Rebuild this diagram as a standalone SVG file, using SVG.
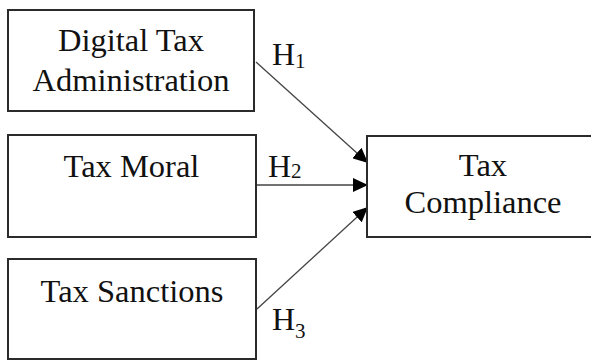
<svg xmlns="http://www.w3.org/2000/svg" width="591" height="360" viewBox="0 0 591 360">
<style>
.box{fill:#fff;stroke:#2b2b2b;stroke-width:2}
.t{font-family:"Liberation Serif","Times New Roman",serif;font-size:32.5px;fill:#111;text-anchor:middle}
.h{font-family:"Liberation Serif","Times New Roman",serif;font-size:32px;fill:#111}
.sub{font-size:21px}
.c{stroke:#444;stroke-width:1.3;fill:none;marker-end:url(#ah)}
</style>
<defs>
<marker id="ah" markerUnits="userSpaceOnUse" markerWidth="16" markerHeight="14" refX="15" refY="7" orient="auto">
<path d="M0,0 L15,7 L0,14 Z" fill="#000"/>
</marker>
</defs>
<rect width="591" height="360" fill="#fff"/>
<g id="connectors">
<line class="c" x1="256" y1="62" x2="368" y2="163"/>
<line class="c" x1="256" y1="185" x2="368" y2="185"/>
<line class="c" x1="257" y1="309" x2="368" y2="207"/>
<text class="h" x="272" y="65">H<tspan class="sub" dy="3">1</tspan></text>
<text class="h" x="268" y="177">H<tspan class="sub" dy="1">2</tspan></text>
<text class="h" x="272" y="330">H<tspan class="sub" dy="8">3</tspan></text>
</g>
<g id="digital">
<rect class="box" x="8" y="10" width="246" height="101"/>
<text class="t" x="131" y="51">Digital Tax</text>
<text class="t" x="131" y="91">Administration</text>
</g>
<g id="moral">
<rect class="box" x="8" y="135" width="248" height="102"/>
<text class="t" x="131.5" y="177">Tax Moral</text>
</g>
<g id="sanctions">
<rect class="box" x="8" y="259" width="248" height="100"/>
<text class="t" x="132" y="302">Tax Sanctions</text>
</g>
<g id="compliance">
<rect class="box" x="367" y="136" width="232" height="101"/>
<text class="t" x="483" y="176">Tax</text>
<text class="t" x="483" y="213">Compliance</text>
</g>
</svg>
